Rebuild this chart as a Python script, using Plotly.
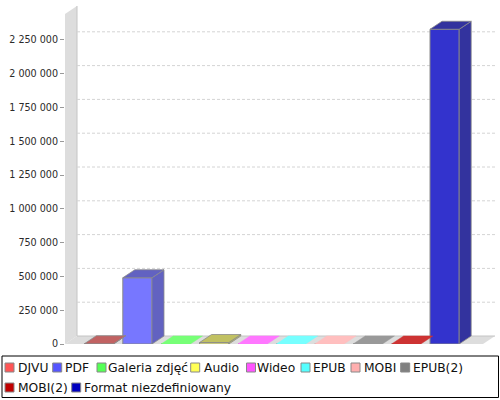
import plotly.graph_objects as go

# ---------------- data ----------------
series_names = ["DJVU", "PDF", "Galeria zdjęć", "Audio", "Wideo", "EPUB",
                "MOBI", "EPUB(2)", "MOBI(2)", "Format niezdefiniowany"]
series_values = [2000, 490000, 0, 11000, 0, 0, 0, 0, 0, 2328000]
series_colors = ["#FF5555", "#5555FF", "#55FF55", "#FFFF55", "#FF55FF",
                 "#55FFFF", "#FFAFAF", "#808080", "#C00000", "#0000C0"]
tick_values = [0, 250000, 500000, 750000, 1000000, 1250000, 1500000,
               1750000, 2000000, 2250000]
tick_labels = ["0", "250 000", "500 000", "750 000", "1 000 000", "1 250 000",
               "1 500 000", "1 750 000", "2 000 000", "2 250 000"]

# ---------------- geometry / style ----------------
W, H = 500, 400
ML, MR, MT, MB = 65, 5, 6, 56
PW, PH = W - ML - MR, H - MT - MB
Y_TOP = 2500000
PX_PER_SLOT = 38.4
X_LEFT = -34 / PX_PER_SLOT
X_RIGHT = X_LEFT + PW / PX_PER_SLOT
DX = 12 / PX_PER_SLOT            # 3D depth in x (data units)
DY = 8 * Y_TOP / PH              # 3D depth in y (data units)
X_FRONT_RIGHT = X_RIGHT - DX
BAR_W = 29.2 / PX_PER_SLOT
ALPHA = 0.8
EDGE = "#8a8a8a"


def hex2rgb(h):
    h = h.lstrip("#")
    return [int(h[i:i + 2], 16) for i in (0, 2, 4)]


def blend(h, factor=1.0):
    r, g, b = [int(c * factor) for c in hex2rgb(h)]
    r, g, b = [round(c * ALPHA + 255 * (1 - ALPHA)) for c in (r, g, b)]
    return f"rgb({r},{g},{b})"


fig = go.Figure()

# front faces
xs = list(range(len(series_values)))
fig.add_trace(go.Bar(
    x=xs, y=series_values, width=BAR_W,
    marker=dict(color=[blend(c) for c in series_colors],
                line=dict(color=EDGE, width=1)),
    hoverinfo="skip", showlegend=False))

# side and top faces
for i, (v, c) in enumerate(zip(series_values, series_colors)):
    xl, xr = i - BAR_W / 2, i + BAR_W / 2
    if v > 0:
        face = blend(c, 0.7)
        edge = dict(color=EDGE, width=0.8)
        fig.add_trace(go.Scatter(
            x=[xr, xr + DX, xr + DX, xr, xr], y=[0, DY, v + DY, v, 0],
            mode="lines", fill="toself", fillcolor=face,
            line=edge, hoverinfo="skip", showlegend=False))
    else:
        face = blend(c)
        edge = dict(color=face, width=0.5)
    fig.add_trace(go.Scatter(
        x=[xl, xl + DX, xr + DX, xr, xl], y=[v, v + DY, v + DY, v, v],
        mode="lines", fill="toself", fillcolor=face,
        line=edge, hoverinfo="skip", showlegend=False))

shapes = []
# left wall
shapes.append(dict(type="path", xref="x", yref="y", layer="below",
                   path=f"M{X_LEFT},0 L{X_LEFT + DX},{DY} L{X_LEFT + DX},{Y_TOP} "
                        f"L{X_LEFT},{Y_TOP - DY} Z",
                   fillcolor="#dddddd", line=dict(width=0)))
# floor
shapes.append(dict(type="path", xref="x", yref="y", layer="below",
                   path=f"M{X_LEFT},0 L{X_FRONT_RIGHT},0 L{X_RIGHT},{DY} "
                        f"L{X_LEFT + DX},{DY} Z",
                   fillcolor="#dddddd", line=dict(width=0)))
# wall / floor inner edges
shapes.append(dict(type="line", xref="x", yref="y", layer="below",
                   x0=X_LEFT + DX, x1=X_LEFT + DX, y0=DY, y1=Y_TOP,
                   line=dict(color="#c4c4c4", width=1)))
shapes.append(dict(type="line", xref="x", yref="y", layer="below",
                   x0=X_LEFT + DX, x1=X_RIGHT, y0=DY, y1=DY,
                   line=dict(color="#c4c4c4", width=1)))
# grid lines on back plane
for v in tick_values[1:]:
    shapes.append(dict(type="line", xref="x", yref="y", layer="below",
                       x0=X_LEFT + DX, x1=X_RIGHT, y0=v + DY, y1=v + DY,
                       line=dict(color="#d4d4d4", width=1, dash="3px,2px")))


# ---------------- legend (drawn manually, compact like reference) -------------
def px2paper_x(px):
    return (px - ML) / PW


def px2paper_y(py):
    return (MT + PH - py) / PH


legend_layout = [  # (row centre y px, square left px, text left px)
    (367.5, 5, 16.7), (367.5, 52.7, 64), (367.5, 97, 107.3), (367.5, 190.7, 202.7),
    (367.5, 246.5, 256), (367.5, 301, 312), (367.5, 351, 363.3), (367.5, 400.7, 412),
    (387.5, 5, 16.7), (387.5, 71.7, 83.3),
]
annotations = []
for name, c, (cy, sx, tx) in zip(series_names, series_colors, legend_layout):
    shapes.append(dict(type="rect", xref="paper", yref="paper",
                       x0=px2paper_x(sx), x1=px2paper_x(sx + 9),
                       y0=px2paper_y(cy - 4.5), y1=px2paper_y(cy + 4.5),
                       fillcolor=c, line=dict(color="#888888", width=1)))
    annotations.append(dict(text=name, xref="paper", yref="paper",
                            x=px2paper_x(tx - 1.2), y=px2paper_y(cy),
                            xanchor="left", yanchor="middle", showarrow=False,
                            font=dict(family="DejaVu Sans", size=12.3, color="#111111")))
# legend frame
shapes.append(dict(type="rect", xref="paper", yref="paper",
                   x0=px2paper_x(2), x1=px2paper_x(498.5),
                   y0=px2paper_y(397.5), y1=px2paper_y(356),
                   line=dict(color="#000000", width=1), fillcolor="rgba(0,0,0,0)"))

fig.update_layout(
    width=W, height=H,
    margin=dict(l=ML, r=MR, t=MT, b=MB, pad=0),
    paper_bgcolor="white", plot_bgcolor="white",
    showlegend=False,
    shapes=shapes, annotations=annotations,
    xaxis=dict(visible=False, range=[X_LEFT, X_RIGHT], fixedrange=True),
    yaxis=dict(range=[0, Y_TOP], tickvals=tick_values, ticktext=tick_labels,
               showgrid=False, zeroline=False, showline=False,
               ticks="outside", ticklen=4, tickcolor="#999999", tickwidth=1,
               tickfont=dict(family="DejaVu Sans", size=9.6, color="#2a2a2a"),
               fixedrange=True),
    font=dict(family="DejaVu Sans"),
)

fig.write_html("out.html",
               config={"displayModeBar": False},
               post_script="document.body.style.margin='0';"
                           "document.body.style.overflow='hidden';")
